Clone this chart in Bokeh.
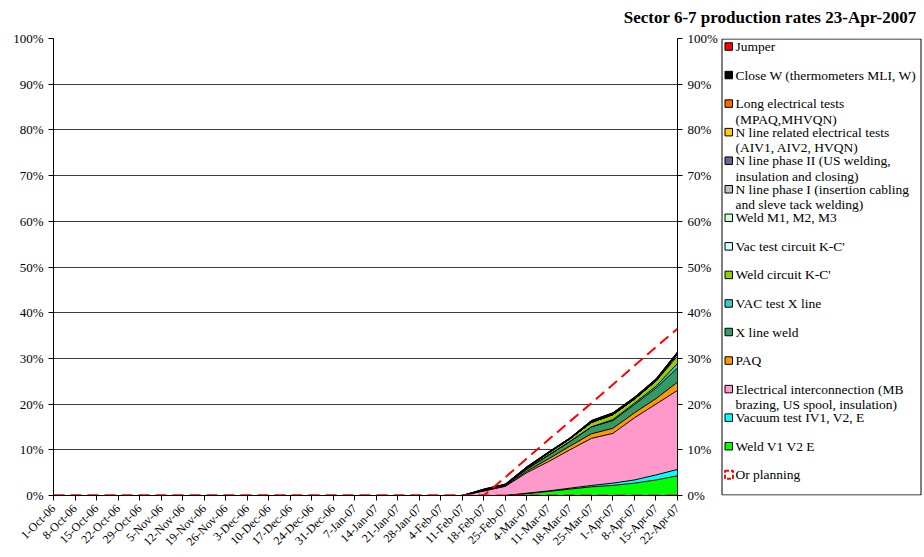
import numpy as np
from math import pi
from bokeh.plotting import figure
from bokeh.layouts import column, row
from bokeh.models import ColumnDataSource, Range1d, LinearAxis, FixedTicker
from bokeh.core.properties import value
from bokeh.embed import file_html
from bokeh.resources import INLINE

# ---------------- data ----------------
weeks = ["1-Oct-06", "8-Oct-06", "15-Oct-06", "22-Oct-06", "29-Oct-06",
         "5-Nov-06", "12-Nov-06", "19-Nov-06", "26-Nov-06",
         "3-Dec-06", "10-Dec-06", "17-Dec-06", "24-Dec-06", "31-Dec-06",
         "7-Jan-07", "14-Jan-07", "21-Jan-07", "28-Jan-07",
         "4-Feb-07", "11-Feb-07", "18-Feb-07", "25-Feb-07",
         "4-Mar-07", "11-Mar-07", "18-Mar-07", "25-Mar-07",
         "1-Apr-07", "8-Apr-07", "15-Apr-07", "22-Apr-07"]

# weekly stacked percentages (bottom to top); first 20 weeks are zero
weld_v1v2e = [0] * 20 + [0.0, 0.0, 0.4, 0.9, 1.4, 1.9, 2.2, 2.7, 3.4, 4.3]
vacuum_test = [0] * 20 + [0.0, 0.0, 0.1, 0.1, 0.2, 0.3, 0.5, 0.7, 1.1, 1.4]
elec_interconnection = [0] * 20 + [1.0, 2.0, 4.5, 6.4, 8.4, 10.3, 10.9, 13.6, 15.5, 17.3]
paq = [0] * 20 + [0.0, 0.1, 0.3, 0.6, 0.8, 1.0, 1.1, 1.1, 1.2, 1.8]
x_line_weld = [0] * 20 + [0.2, 0.2, 0.5, 0.8, 1.0, 1.5, 1.7, 1.8, 2.3, 3.1]
vac_test_x_line = [0] * 20 + [0.0, 0.0, 0.0, 0.0, 0.0, 0.0, 0.2, 0.3, 0.4, 1.0]
weld_circuit_kc = [0] * 20 + [0.0, 0.1, 0.3, 0.5, 0.6, 1.0, 1.1, 0.9, 1.1, 1.6]
vac_test_circuit_kc = [0] * 20 + [0.0, 0.0, 0.0, 0.0, 0.0, 0.0, 0.0, 0.0, 0.1, 0.5]
weld_m123 = [0] * 30
n_line_phase1 = [0] * 30
n_line_phase2 = [0] * 30
n_line_elec_tests = [0] * 30
long_elec_tests = [0] * 30
close_w = [0] * 20 + [0.2, 0.1, 0.2, 0.2, 0.2, 0.4, 0.4, 0.4, 0.4, 0.4]
jumper = [0] * 30

or_planning = [0] * 21 + [4.0, 8.1, 12.2, 16.2, 20.2, 24.3, 28.4, 32.5, 36.5]
or_planning_base = [0] * 30

pct_ticks = [0, 10, 20, 30, 40, 50, 60, 70, 80, 90, 100]
pct_labels = ["0%", "10%", "20%", "30%", "40%", "50%", "60%", "70%", "80%", "90%", "100%"]

title_text = "Sector 6-7 production rates 23-Apr-2007"

series_names = ["Weld V1 V2 E", "Vacuum test IV1, V2, E",
                "Electrical interconnection (MB\nbrazing, US spool, insulation)",
                "PAQ", " X line weld", "VAC test X line", "Weld circuit K-C'",
                "Vac test circuit K-C'", "Weld M1, M2, M3",
                "N line phase I (insertion cabling\nand sleve tack welding)",
                "N line phase II (US welding,\ninsulation and closing)",
                "N line related electrical tests\n(AIV1, AIV2, HVQN)",
                "Long electrical tests\n(MPAQ,MHVQN)",
                "Close W (thermometers MLI, W)", "Jumper"]
series_values = [weld_v1v2e, vacuum_test, elec_interconnection, paq, x_line_weld,
                 vac_test_x_line, weld_circuit_kc, vac_test_circuit_kc, weld_m123,
                 n_line_phase1, n_line_phase2, n_line_elec_tests, long_elec_tests,
                 close_w, jumper]
series_colors = ["#00FF00", "#00FFFF", "#FF99CC", "#FF9900", "#339966", "#33CCCC",
                 "#99CC00", "#CCFFFF", "#CCFFCC", "#C0C0C0", "#666699", "#FFCC00",
                 "#FF6600", "#000000", "#FF0000"]
planning_name = "Or planning"

# ---------------- layout (page pixels) ----------------
FONT = "Liberation Serif"
TOTAL_W, TOTAL_H = 922, 556
TITLE_H = 30
MAIN_W = 720
FRAME_L, FRAME_R, FRAME_T, FRAME_B = 53, 677, 38, 495


def bare(fig):
    fig.outline_line_color = None
    fig.xgrid.visible = False
    fig.ygrid.visible = False
    fig.background_fill_color = "white"
    fig.border_fill_color = "white"
    return fig


# ---- title strip ----
pt = bare(figure(width=TOTAL_W, height=TITLE_H, output_backend="svg", toolbar_location=None,
                 x_range=Range1d(0, TOTAL_W), y_range=Range1d(TITLE_H, 0),
                 x_axis_location=None, y_axis_location=None,
                 min_border_left=0, min_border_right=0, min_border_top=0, min_border_bottom=0))
pt.text(x=[916], y=[17], text=[title_text], text_align="right", text_baseline="middle",
        text_font=value(FONT), text_font_size="17px", text_font_style="bold", text_color="black")

# ---- main chart ----
main_h = TOTAL_H - TITLE_H
xs = list(range(len(weeks)))
p = figure(width=MAIN_W, height=main_h, output_backend="svg", toolbar_location=None,
           x_range=Range1d(0, len(weeks) - 1), y_range=Range1d(0, 100),
           min_border_left=FRAME_L, min_border_right=MAIN_W - FRAME_R,
           min_border_top=FRAME_T - TITLE_H, min_border_bottom=TOTAL_H - FRAME_B)
p.outline_line_color = None
p.background_fill_color = "white"
p.border_fill_color = "white"

keys = ["s%d" % i for i in range(len(series_values))]
src = ColumnDataSource(dict(x=xs, **{k: v for k, v in zip(keys, series_values)}))
p.varea_stack(stackers=keys, x="x", color=series_colors, source=src)

cum = np.zeros(len(xs))
for vals in series_values:
    cum = cum + np.array(vals, dtype=float)
    p.line(xs, cum.copy(), line_color="black", line_width=1)

p.line(xs, or_planning_base, line_color="#FF0000", line_width=2, line_dash="11 6")
p.line(xs, or_planning, line_color="#FF0000", line_width=2, line_dash="11 6")

p.xgrid.visible = False
p.ygrid.ticker = FixedTicker(ticks=pct_ticks[1:])
p.ygrid.grid_line_color = "#3a3a3a"
p.ygrid.grid_line_width = 1

overrides_y = {t: l for t, l in zip(pct_ticks, pct_labels)}


def style_axis(ax, size="13px"):
    ax.axis_line_color = "black"
    ax.major_tick_line_color = "black"
    ax.minor_tick_line_color = None
    ax.major_tick_in = 0
    ax.major_tick_out = 5
    ax.major_label_text_font = FONT
    ax.major_label_text_font_size = size
    ax.major_label_text_color = "black"


yl = p.yaxis[0]
yl.ticker = FixedTicker(ticks=pct_ticks)
yl.major_label_overrides = overrides_y
style_axis(yl)
yl.major_label_standoff = 5

yr = LinearAxis(ticker=FixedTicker(ticks=pct_ticks), major_label_overrides=overrides_y)
style_axis(yr)
yr.major_label_standoff = 5
p.add_layout(yr, "right")

xa = p.xaxis[0]
xa.ticker = FixedTicker(ticks=xs)
xa.major_label_overrides = {i: w for i, w in zip(xs, weeks)}
style_axis(xa, "12px")
xa.major_label_orientation = pi / 4
xa.major_label_standoff = 6

# ---- legend panel (its frame is aligned with the main frame: page y 38..495) ----
leg_w = TOTAL_W - MAIN_W
pl = bare(figure(width=leg_w, height=main_h, output_backend="svg", toolbar_location=None,
                 x_range=Range1d(MAIN_W, TOTAL_W), y_range=Range1d(FRAME_B, FRAME_T),
                 x_axis_location=None, y_axis_location=None,
                 min_border_left=0, min_border_right=0, min_border_top=0, min_border_bottom=0))

pl.quad(left=[721.5], right=[920.5], top=[38.5], bottom=[494.5],
        fill_alpha=0, line_color="black", line_width=1)

row0, step = 46, 28.55
order = list(range(len(series_names)))[::-1]
sq_l, sq_r, sq_t, sq_b, sq_c = [], [], [], [], []
tx, ty, tt = [], [], []
for k, idx in enumerate(order):
    cy = row0 + step * k
    sq_l.append(724.5)
    sq_r.append(732.0)
    sq_t.append(cy - 3.75)
    sq_b.append(cy + 3.75)
    sq_c.append(series_colors[idx])
    for j, line in enumerate(series_names[idx].split("\n")):
        tx.append(735)
        ty.append(cy + 15.5 * j)
        tt.append(line)
pl.quad(left=sq_l, right=sq_r, top=sq_t, bottom=sq_b, fill_color=sq_c,
        line_color="black", line_width=1)

cy = row0 + step * len(order)
pl.quad(left=[724.5], right=[732.5], top=[cy - 4], bottom=[cy + 4], fill_alpha=0,
        line_color="#FF0000", line_width=2, line_dash="4 2")
tx.append(735)
ty.append(cy)
tt.append(planning_name)

pl.text(x=tx, y=ty, text=tt, text_align="left", text_baseline="middle",
        text_font=value(FONT), text_font_size="13.5px", text_color="black")

layout = column(pt, row(p, pl))
open("out.html", "w").write(file_html(layout, INLINE))
